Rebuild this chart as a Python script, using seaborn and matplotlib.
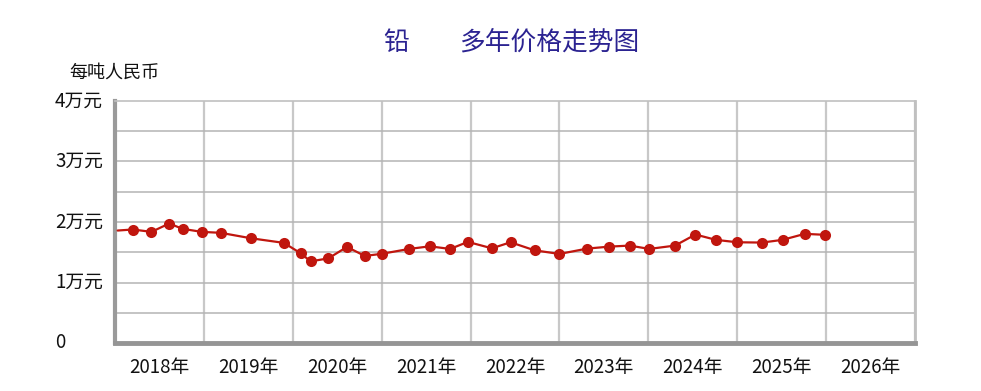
import matplotlib
matplotlib.use("Agg")
import matplotlib.pyplot as plt
import matplotlib.transforms as mtransforms
import seaborn as sns
import pandas as pd

# ---- data ----
years = [2018.03, 2018.20, 2018.41, 2018.61, 2018.76, 2018.975, 2019.19, 2019.53, 2019.90,
         2020.09, 2020.20, 2020.40, 2020.61, 2020.81, 2021.00, 2021.31, 2021.54, 2021.77,
         2021.97, 2022.24, 2022.45, 2022.72, 2023.00, 2023.31, 2023.56, 2023.79, 2024.01,
         2024.30, 2024.53, 2024.76, 2025.00, 2025.28, 2025.51, 2025.76, 2025.99]
prices = [18590, 18760, 18370, 19750, 18870, 18370, 18210, 17310, 16550,
          14820, 13490, 13990, 15880, 14390, 14740, 15550, 15980, 15550,
          16710, 15650, 16650, 15320, 14720, 15600, 15930, 16100, 15550,
          16100, 17930, 17050, 16650, 16600, 17050, 18040, 17880]
year_labels = ["2018年", "2019年", "2020年", "2021年", "2022年", "2023年", "2024年", "2025年", "2026年"]
y_ticks = [0, 10000, 20000, 30000, 40000]
y_labels = ["0", "1万元", "2万元", "3万元", "4万元"]
title_metal = "铅"
title_rest = "多年价格走势图"
unit_label = "每吨人民币"

df = pd.DataFrame({"year": years, "price": prices})

sns.set_theme(style="white")
plt.rcParams["font.family"] = ["Noto Sans CJK SC", "DejaVu Sans"]

W, H = 981, 391
fig = plt.figure(figsize=(W / 100, H / 100), dpi=100)
ax = fig.add_axes([115 / W, 1 - 343 / H, 800 / W, 242 / H])

x0 = 2018
ax.set_xlim(x0, x0 + len(year_labels))
ax.set_ylim(0, 40000)

# grid
for k in range(len(year_labels) + 1):
    ax.axvline(x0 + k, color="#c8c8c8", lw=1.6, zorder=0)
for v in range(5000, 40000, 5000):
    ax.axhline(v, color="#b4b4b4", lw=1.1, zorder=0)

sns.lineplot(data=df, x="year", y="price", ax=ax, color="#c0160e", lw=1.6,
             marker="o", markersize=8, markeredgewidth=0,
             markevery=list(range(1, len(years))), zorder=3)

for s in ["top", "right"]:
    ax.spines[s].set_color("#c0c0c0")
ax.spines["top"].set_linewidth(1.2)
ax.spines["right"].set_linewidth(2.0)
ax.spines["left"].set_color("#9a9a9a")
ax.spines["left"].set_linewidth(3)
ax.spines["bottom"].set_color("#959595")
ax.spines["bottom"].set_linewidth(3.5)

ax.set_xticks([])
ax.set_yticks([])
ax.set_xlabel("")
ax.set_ylabel("")

# x labels centered in each year column
xlab_tr = mtransforms.blended_transform_factory(ax.transData, fig.transFigure)
for i, lab in enumerate(year_labels):
    ax.text(x0 + i + 0.5, 1 - 368 / H, lab, transform=xlab_tr,
            ha="center", va="center", fontsize=13.5, color="#111111")

# y labels (left aligned as in the reference)
ylab_tr = mtransforms.blended_transform_factory(fig.transFigure, ax.transData)
for v, lab in zip(y_ticks, y_labels):
    ax.text(55 / W, v, lab, transform=ylab_tr,
            ha="left", va="center", fontsize=13.5, color="#111111")

fig.text(69 / W, 1 - 73 / H, unit_label, ha="left", va="center", fontsize=13, color="#111111")
fig.text(396 / W, 1 - 43 / H, title_metal, ha="center", va="center", fontsize=18.5,
         color="#2b2391", fontweight="medium")
fig.text(549 / W, 1 - 43 / H, title_rest, ha="center", va="center", fontsize=18.5,
         color="#2b2391", fontweight="medium")

fig.savefig("out.png", dpi=100, facecolor="white")
